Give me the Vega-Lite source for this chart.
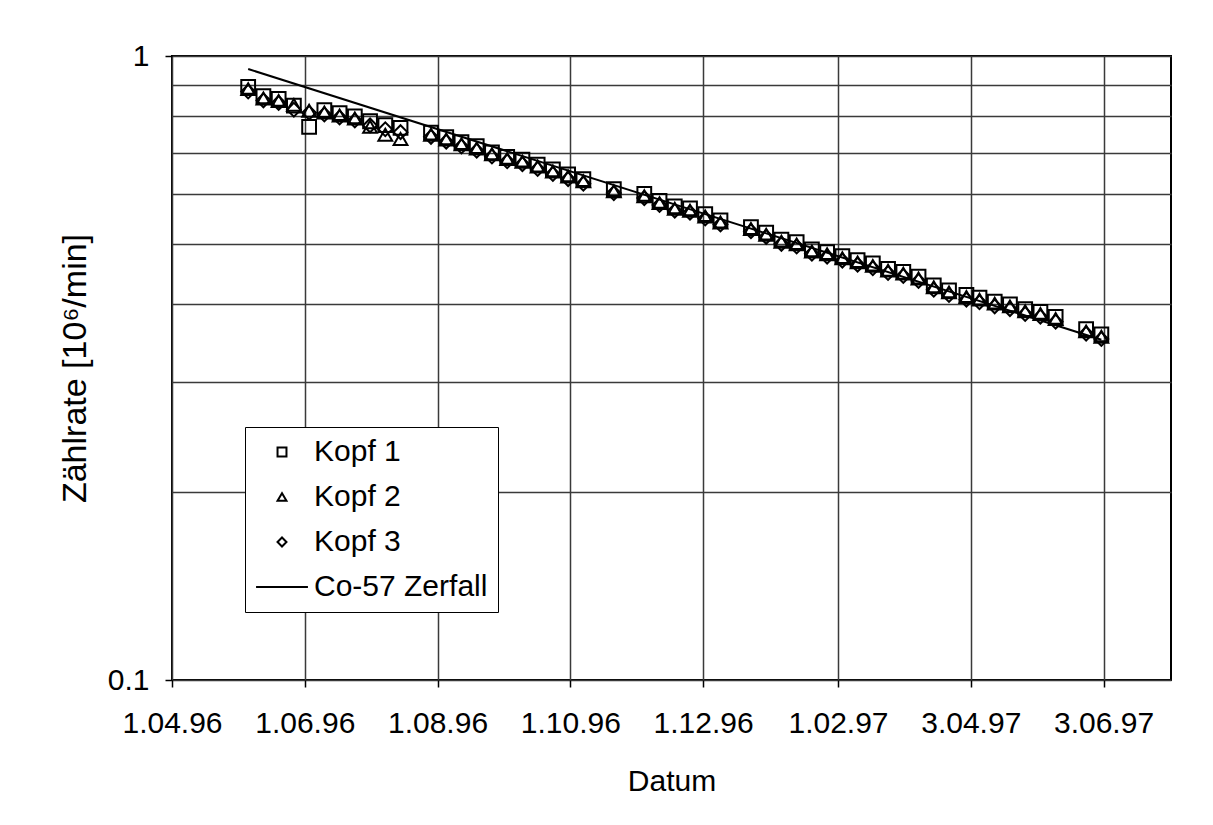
{
  "$schema": "https://vega.github.io/schema/vega-lite/v6.json",
  "width": 999,
  "height": 624,
  "autosize": {"type": "none"},
  "padding": {"left": 172, "top": 56, "right": 42, "bottom": 145},
  "background": "white",
  "config": {
    "font": "Liberation Sans",
    "view": {"stroke": "black", "strokeWidth": 2},
    "axis": {
      "labelFont": "Liberation Sans",
      "labelFontSize": 30,
      "labelColor": "black",
      "titleFont": "Liberation Sans",
      "titleFontSize": 30,
      "titleFontWeight": "normal",
      "titleColor": "black",
      "domain": false,
      "gridColor": "#3a3a3a",
      "gridWidth": 1.5,
      "tickColor": "black",
      "tickWidth": 1.5,
      "tickSize": 7,
      "labelAngle": 0
    }
  },
  "datasets": {
    "zerfall": [
      {"Datum": "1996-05-06", "Wert": 0.953},
      {"Datum": "1997-06-02", "Wert": 0.351}
    ],
    "messung": [
      {"Datum": "1996-05-06", "Kopf 1": 0.892, "Kopf 2": 0.885, "Kopf 3": 0.877},
      {"Datum": "1996-05-13", "Kopf 1": 0.862, "Kopf 2": 0.855, "Kopf 3": 0.849},
      {"Datum": "1996-05-20", "Kopf 1": 0.854, "Kopf 2": 0.847, "Kopf 3": 0.841},
      {"Datum": "1996-05-27", "Kopf 1": 0.833, "Kopf 2": 0.835, "Kopf 3": 0.820},
      {"Datum": "1996-06-03", "Kopf 1": 0.770, "Kopf 2": 0.817, "Kopf 3": 0.811},
      {"Datum": "1996-06-10", "Kopf 1": 0.819, "Kopf 2": 0.812, "Kopf 3": 0.806},
      {"Datum": "1996-06-17", "Kopf 1": 0.810, "Kopf 2": 0.803, "Kopf 3": 0.797},
      {"Datum": "1996-06-24", "Kopf 1": 0.800, "Kopf 2": 0.794, "Kopf 3": 0.788},
      {"Datum": "1996-07-01", "Kopf 1": 0.786, "Kopf 2": 0.770, "Kopf 3": 0.774},
      {"Datum": "1996-07-08", "Kopf 1": 0.775, "Kopf 2": 0.748, "Kopf 3": 0.763},
      {"Datum": "1996-07-15", "Kopf 1": 0.767, "Kopf 2": 0.736, "Kopf 3": 0.755},
      {"Datum": "1996-07-29", "Kopf 1": 0.754, "Kopf 2": 0.748, "Kopf 3": 0.742},
      {"Datum": "1996-08-05", "Kopf 1": 0.741, "Kopf 2": 0.735, "Kopf 3": 0.729},
      {"Datum": "1996-08-12", "Kopf 1": 0.728, "Kopf 2": 0.722, "Kopf 3": 0.716},
      {"Datum": "1996-08-19", "Kopf 1": 0.717, "Kopf 2": 0.711, "Kopf 3": 0.705},
      {"Datum": "1996-08-26", "Kopf 1": 0.701, "Kopf 2": 0.696, "Kopf 3": 0.690},
      {"Datum": "1996-09-02", "Kopf 1": 0.689, "Kopf 2": 0.684, "Kopf 3": 0.678},
      {"Datum": "1996-09-09", "Kopf 1": 0.682, "Kopf 2": 0.677, "Kopf 3": 0.671},
      {"Datum": "1996-09-16", "Kopf 1": 0.670, "Kopf 2": 0.665, "Kopf 3": 0.659},
      {"Datum": "1996-09-23", "Kopf 1": 0.658, "Kopf 2": 0.653, "Kopf 3": 0.647},
      {"Datum": "1996-09-30", "Kopf 1": 0.646, "Kopf 2": 0.641, "Kopf 3": 0.635},
      {"Datum": "1996-10-07", "Kopf 1": 0.635, "Kopf 2": 0.630, "Kopf 3": 0.624},
      {"Datum": "1996-10-21", "Kopf 1": 0.612, "Kopf 2": 0.607, "Kopf 3": 0.603},
      {"Datum": "1996-11-04", "Kopf 1": 0.601, "Kopf 2": 0.596, "Kopf 3": 0.592},
      {"Datum": "1996-11-11", "Kopf 1": 0.586, "Kopf 2": 0.581, "Kopf 3": 0.577},
      {"Datum": "1996-11-18", "Kopf 1": 0.574, "Kopf 2": 0.569, "Kopf 3": 0.565},
      {"Datum": "1996-11-25", "Kopf 1": 0.570, "Kopf 2": 0.565, "Kopf 3": 0.561},
      {"Datum": "1996-12-02", "Kopf 1": 0.558, "Kopf 2": 0.553, "Kopf 3": 0.549},
      {"Datum": "1996-12-09", "Kopf 1": 0.545, "Kopf 2": 0.541, "Kopf 3": 0.537},
      {"Datum": "1996-12-23", "Kopf 1": 0.532, "Kopf 2": 0.528, "Kopf 3": 0.524},
      {"Datum": "1996-12-30", "Kopf 1": 0.521, "Kopf 2": 0.517, "Kopf 3": 0.513},
      {"Datum": "1997-01-06", "Kopf 1": 0.508, "Kopf 2": 0.504, "Kopf 3": 0.500},
      {"Datum": "1997-01-13", "Kopf 1": 0.503, "Kopf 2": 0.499, "Kopf 3": 0.495},
      {"Datum": "1997-01-20", "Kopf 1": 0.490, "Kopf 2": 0.486, "Kopf 3": 0.482},
      {"Datum": "1997-01-27", "Kopf 1": 0.485, "Kopf 2": 0.481, "Kopf 3": 0.477},
      {"Datum": "1997-02-03", "Kopf 1": 0.478, "Kopf 2": 0.474, "Kopf 3": 0.470},
      {"Datum": "1997-02-10", "Kopf 1": 0.471, "Kopf 2": 0.467, "Kopf 3": 0.463},
      {"Datum": "1997-02-17", "Kopf 1": 0.465, "Kopf 2": 0.461, "Kopf 3": 0.457},
      {"Datum": "1997-02-24", "Kopf 1": 0.456, "Kopf 2": 0.453, "Kopf 3": 0.449},
      {"Datum": "1997-03-03", "Kopf 1": 0.451, "Kopf 2": 0.448, "Kopf 3": 0.444},
      {"Datum": "1997-03-10", "Kopf 1": 0.443, "Kopf 2": 0.440, "Kopf 3": 0.436},
      {"Datum": "1997-03-17", "Kopf 1": 0.429, "Kopf 2": 0.426, "Kopf 3": 0.422},
      {"Datum": "1997-03-24", "Kopf 1": 0.421, "Kopf 2": 0.418, "Kopf 3": 0.414},
      {"Datum": "1997-04-01", "Kopf 1": 0.414, "Kopf 2": 0.411, "Kopf 3": 0.407},
      {"Datum": "1997-04-07", "Kopf 1": 0.410, "Kopf 2": 0.407, "Kopf 3": 0.403},
      {"Datum": "1997-04-14", "Kopf 1": 0.404, "Kopf 2": 0.401, "Kopf 3": 0.397},
      {"Datum": "1997-04-21", "Kopf 1": 0.400, "Kopf 2": 0.397, "Kopf 3": 0.393},
      {"Datum": "1997-04-28", "Kopf 1": 0.393, "Kopf 2": 0.390, "Kopf 3": 0.386},
      {"Datum": "1997-05-05", "Kopf 1": 0.389, "Kopf 2": 0.386, "Kopf 3": 0.382},
      {"Datum": "1997-05-12", "Kopf 1": 0.382, "Kopf 2": 0.379, "Kopf 3": 0.375},
      {"Datum": "1997-05-26", "Kopf 1": 0.365, "Kopf 2": 0.362, "Kopf 3": 0.359},
      {"Datum": "1997-06-02", "Kopf 1": 0.358, "Kopf 2": 0.355, "Kopf 3": 0.352}
    ]
  },
  "encoding": {
    "x": {
      "field": "Datum",
      "type": "temporal",
      "scale": {
        "type": "utc",
        "domain": [
          {"year": 1996, "month": 4, "date": 1, "utc": true},
          {"year": 1997, "month": 7, "date": 4, "utc": true}
        ]
      },
      "axis": {
        "title": "Datum",
        "grid": true,
        "values": [
          {"year": 1996, "month": 4, "date": 1, "utc": true},
          {"year": 1996, "month": 6, "date": 1, "utc": true},
          {"year": 1996, "month": 8, "date": 1, "utc": true},
          {"year": 1996, "month": 10, "date": 1, "utc": true},
          {"year": 1996, "month": 12, "date": 1, "utc": true},
          {"year": 1997, "month": 2, "date": 1, "utc": true},
          {"year": 1997, "month": 4, "date": 3, "utc": true},
          {"year": 1997, "month": 6, "date": 3, "utc": true}
        ],
        "labelExpr": "utcFormat(datum.value, '%-d.%m.%y')",
        "labelFlush": false,
        "labelOverlap": false,
        "labelPadding": 21,
        "titlePadding": 28
      }
    },
    "y": {
      "field": "Wert",
      "type": "quantitative",
      "scale": {"type": "log", "domain": [0.1, 1], "nice": false},
      "axis": {
        "title": "Zählrate [10⁶/min]",
        "titleFontSize": 34,
        "grid": true,
        "values": [0.1, 0.2, 0.3, 0.4, 0.5, 0.6, 0.7, 0.8, 0.9, 1],
        "labelExpr": "datum.value == 1 ? '1' : (datum.value == 0.1 ? '0.1' : '')",
        "tickOpacity": {"condition": {"test": "datum.value == 0.1 || datum.value == 1", "value": 1}, "value": 0},
        "labelPadding": 16,
        "titlePadding": 15
      }
    }
  },
  "layer": [
    {
      "data": {"name": "zerfall"},
      "mark": {"type": "line", "color": "black", "strokeWidth": 2},
      "encoding": {}
    },
    {
      "data": {"name": "messung"},
      "transform": [{"fold": ["Kopf 1", "Kopf 2", "Kopf 3"], "as": ["Serie", "Wert"]}],
      "mark": {"type": "point", "filled": false, "stroke": "black", "strokeWidth": 2, "size": 190, "opacity": 1},
      "encoding": {
        "shape": {
          "field": "Serie",
          "type": "nominal",
          "scale": {
            "domain": ["Kopf 1", "Kopf 2", "Kopf 3", "Co-57 Zerfall"],
            "range": ["square", "triangle-up", "diamond", "M-5.8,0L5.8,0"]
          },
          "legend": {
            "title": null,
            "orient": "none",
            "legendX": 73,
            "legendY": 371,
            "direction": "vertical",
            "strokeColor": "black",
            "fillColor": "white",
            "padding": 10,
            "labelFont": "Liberation Sans",
            "labelFontSize": 30,
            "labelColor": "black",
            "labelLimit": 400,
            "symbolSize": 80,
            "symbolOffset": 12,
            "symbolStrokeColor": "black",
            "symbolStrokeWidth": 2,
            "labelOffset": 17,
            "rowPadding": 15
          }
        }
      }
    }
  ]
}
